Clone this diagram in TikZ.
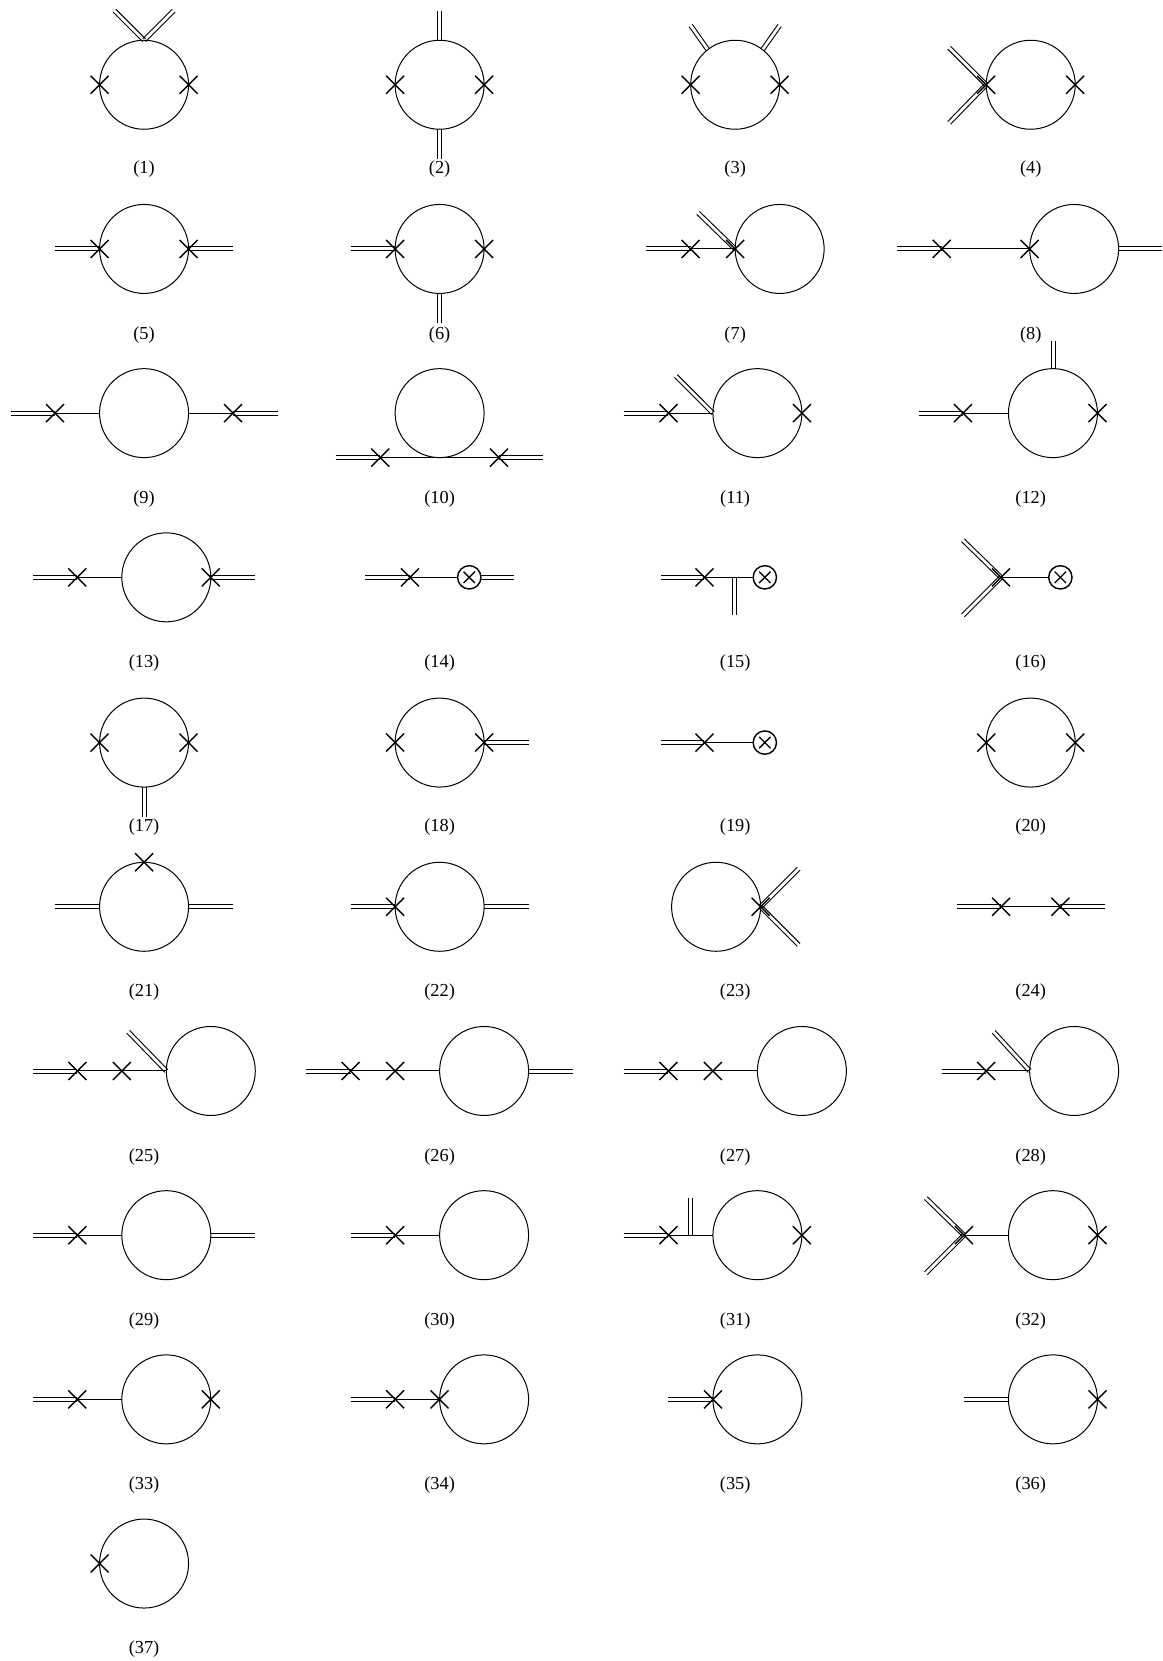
\documentclass[tikz,border=0pt]{standalone}
\usepackage{fontspec}
\setmainfont{Liberation Serif}
\usetikzlibrary{shapes.misc,calc}
\tikzset{
  loopc/.style={circle, draw=black, line width=0.6pt, minimum size=53.4pt, inner sep=0pt, outer sep=0pt},
  vertexc/.style={circle, draw=black, line width=0.85pt, minimum size=14pt, inner sep=0pt, outer sep=0pt},
  xmark/.style={cross out, draw=black, line width=0.85pt, minimum size=10.8pt, inner sep=0pt, outer sep=0pt},
  xsmall/.style={cross out, draw=black, line width=0.8pt, minimum size=6.8pt, inner sep=0pt, outer sep=0pt},
  tag/.style={font=\fontsize{11}{13}\selectfont, inner sep=0pt},
  sline/.style={line width=0.6pt},
  dline/.style={line width=0.55pt, to path={
    ($(\tikztostart)!1.2pt!90:(\tikztotarget)$) -- ($(\tikztotarget)!1.2pt!-90:(\tikztostart)$)
    ($(\tikztostart)!1.2pt!-90:(\tikztotarget)$) -- ($(\tikztotarget)!1.2pt!90:(\tikztostart)$)}}
}
\begin{document}
\begin{tikzpicture}[x=0.6356pt, y=-0.6356pt]
\useasboundingbox (0,0) rectangle (1097,1568);

\node[loopc] (loop1) at (136,80) {};
\node[xmark] (x1a) at (loop1.west) {};
\node[xmark] (x1b) at (loop1.east) {};
\coordinate (e1a) at (108,10);
\coordinate (e1b) at (164,10);
\node[tag] (t1) at (136,160) {(1)};
\node[loopc] (loop2) at (415,80) {};
\node[xmark] (x2a) at (loop2.west) {};
\node[xmark] (x2b) at (loop2.east) {};
\coordinate (e2a) at (415,10);
\coordinate (e2b) at (415,150);
\node[tag] (t2) at (415,160) {(2)};
\node[loopc] (loop3) at (694,80) {};
\node[xmark] (x3a) at (loop3.west) {};
\node[xmark] (x3b) at (loop3.east) {};
\coordinate (e3a) at (652,24);
\coordinate (e3b) at (736,24);
\node[tag] (t3) at (694,160) {(3)};
\node[loopc] (loop4) at (973,80) {};
\node[xmark] (x4a) at (loop4.west) {};
\node[xmark] (x4b) at (loop4.east) {};
\coordinate (e4a) at (896,45);
\coordinate (e4b) at (896,116);
\node[tag] (t4) at (973,160) {(4)};
\draw[dline] (loop1.north) to (e1a);
\draw[dline] (loop1.north) to (e1b);
\draw[dline] (loop2.north) to (e2a);
\draw[dline] (loop2.south) to (e2b);
\draw[dline] (loop3.128) to (e3a);
\draw[dline] (loop3.52) to (e3b);
\draw[dline] (x4a.center) to (e4a);
\draw[dline] (x4a.center) to (e4b);

\node[loopc] (loop5) at (136,235) {};
\node[xmark] (x5a) at (loop5.west) {};
\node[xmark] (x5b) at (loop5.east) {};
\coordinate (e5a) at (52,235);
\coordinate (e5b) at (220,235);
\node[tag] (t5) at (136,316) {(5)};
\node[loopc] (loop6) at (415,235) {};
\node[xmark] (x6a) at (loop6.west) {};
\node[xmark] (x6b) at (loop6.east) {};
\coordinate (e6a) at (331,235);
\coordinate (e6b) at (415,305);
\node[tag] (t6) at (415,316) {(6)};
\node[loopc] (loop7) at (736,235) {};
\node[xmark] (x7a) at (652,235) {};
\node[xmark] (x7b) at (loop7.west) {};
\coordinate (e7a) at (610,235);
\coordinate (e7b) at (659,201);
\node[tag] (t7) at (694,316) {(7)};
\node[loopc] (loop8) at (1014,235) {};
\node[xmark] (x8a) at (889,235) {};
\node[xmark] (x8b) at (loop8.west) {};
\coordinate (e8a) at (847,235);
\coordinate (e8b) at (1097,235);
\node[tag] (t8) at (973,316) {(8)};
\draw[dline] (e5a) to (x5a.center);
\draw[dline] (x5b.center) to (e5b);
\draw[dline] (e6a) to (x6a.center);
\draw[dline] (loop6.south) to (e6b);
\draw[dline] (e7a) to (x7a.center);
\draw[dline] (x7b.center) to (e7b);
\draw[sline] (x7a.center) -- (x7b.center);
\draw[dline] (e8a) to (x8a.center);
\draw[dline] (loop8.east) to (e8b);
\draw[sline] (x8a.center) -- (x8b.center);

\node[loopc] (loop9) at (136,390) {};
\node[xmark] (x9a) at (52,390) {};
\node[xmark] (x9b) at (220,390) {};
\coordinate (e9a) at (10,390);
\coordinate (e9b) at (262,390);
\node[tag] (t9) at (136,471) {(9)};
\node[loopc] (loop10) at (415,390) {};
\node[xmark] (x10a) at (359,432) {};
\node[xmark] (x10b) at (471,432) {};
\coordinate (e10a) at (317,432);
\coordinate (e10b) at (513,432);
\node[tag] (t10) at (415,471) {(10)};
\node[loopc] (loop11) at (715,390) {};
\node[xmark] (x11a) at (631,390) {};
\node[xmark] (x11b) at (loop11.east) {};
\coordinate (e11a) at (589,390);
\coordinate (e11b) at (638,355);
\node[tag] (t11) at (694,471) {(11)};
\node[loopc] (loop12) at (994,390) {};
\node[xmark] (x12a) at (909,390) {};
\node[xmark] (x12b) at (loop12.east) {};
\coordinate (e12a) at (868,390);
\coordinate (e12b) at (994,322);
\node[tag] (t12) at (973,471) {(12)};
\draw[dline] (e9a) to (x9a.center);
\draw[dline] (x9b.center) to (e9b);
\draw[sline] (x9a.center) -- (loop9.west);
\draw[sline] (loop9.east) -- (x9b.center);
\draw[dline] (e10a) to (x10a.center);
\draw[dline] (x10b.center) to (e10b);
\draw[sline] (x10a.center) -- (x10b.center);
\draw[dline] (e11a) to (x11a.center);
\draw[dline] (loop11.west) to (e11b);
\draw[sline] (x11a.center) -- (loop11.west);
\draw[dline] (e12a) to (x12a.center);
\draw[dline] (loop12.north) to (e12b);
\draw[sline] (x12a.center) -- (loop12.west);

\node[loopc] (loop13) at (157,545) {};
\node[xmark] (x13a) at (73,545) {};
\node[xmark] (x13b) at (loop13.east) {};
\coordinate (e13a) at (31,545);
\coordinate (e13b) at (241,545);
\node[tag] (t13) at (136,626) {(13)};
\node[xmark] (x14a) at (387,545) {};
\node[vertexc] (v14) at (443,545) {};
\node[xsmall] (x14b) at (v14.center) {};
\coordinate (e14a) at (345,545);
\coordinate (e14b) at (485,545);
\node[tag] (t14) at (415,626) {(14)};
\node[xmark] (x15a) at (665,545) {};
\node[vertexc] (v15) at (722,545) {};
\node[xsmall] (x15b) at (v15.center) {};
\coordinate (e15a) at (624,545);
\coordinate (j15) at (693,545);
\coordinate (e15b) at (693,581);
\node[tag] (t15) at (694,626) {(15)};
\node[xmark] (x16a) at (945,545) {};
\node[vertexc] (v16) at (1001,545) {};
\node[xsmall] (x16b) at (v16.center) {};
\coordinate (e16a) at (909,510);
\coordinate (e16b) at (909,581);
\node[tag] (t16) at (973,626) {(16)};
\draw[dline] (e13a) to (x13a.center);
\draw[dline] (x13b.center) to (e13b);
\draw[sline] (x13a.center) -- (loop13.west);
\draw[dline] (e14a) to (x14a.center);
\draw[dline] (v14.east) to (e14b);
\draw[sline] (x14a.center) -- (v14.west);
\draw[dline] (e15a) to (x15a.center);
\draw[dline] (j15) to (e15b);
\draw[sline] (x15a.center) -- (v15.west);
\draw[dline] (x16a.center) to (e16a);
\draw[dline] (x16a.center) to (e16b);
\draw[sline] (x16a.center) -- (v16.west);

\node[loopc] (loop17) at (136,701) {};
\node[xmark] (x17a) at (loop17.west) {};
\node[xmark] (x17b) at (loop17.east) {};
\coordinate (e17a) at (136,771);
\node[tag] (t17) at (136,781) {(17)};
\node[loopc] (loop18) at (415,701) {};
\node[xmark] (x18a) at (loop18.west) {};
\node[xmark] (x18b) at (loop18.east) {};
\coordinate (e18a) at (499,701);
\node[tag] (t18) at (415,781) {(18)};
\node[xmark] (x19a) at (665,701) {};
\node[vertexc] (v19) at (722,701) {};
\node[xsmall] (x19b) at (v19.center) {};
\coordinate (e19a) at (624,701);
\node[tag] (t19) at (694,781) {(19)};
\node[loopc] (loop20) at (973,701) {};
\node[xmark] (x20a) at (loop20.west) {};
\node[xmark] (x20b) at (loop20.east) {};
\node[tag] (t20) at (973,781) {(20)};
\draw[dline] (loop17.south) to (e17a);
\draw[dline] (x18b.center) to (e18a);
\draw[dline] (e19a) to (x19a.center);
\draw[sline] (x19a.center) -- (v19.west);

\node[loopc] (loop21) at (136,856) {};
\node[xmark] (x21a) at (loop21.north) {};
\coordinate (e21a) at (52,856);
\coordinate (e21b) at (220,856);
\node[tag] (t21) at (136,937) {(21)};
\node[loopc] (loop22) at (415,856) {};
\node[xmark] (x22a) at (loop22.west) {};
\coordinate (e22a) at (331,856);
\coordinate (e22b) at (499,856);
\node[tag] (t22) at (415,937) {(22)};
\node[loopc] (loop23) at (676,856) {};
\node[xmark] (x23a) at (loop23.east) {};
\coordinate (e23a) at (754,820);
\coordinate (e23b) at (754,892);
\node[tag] (t23) at (694,937) {(23)};
\node[xmark] (x24a) at (945,856) {};
\node[xmark] (x24b) at (1001,856) {};
\coordinate (e24a) at (903,856);
\coordinate (e24b) at (1043,856);
\node[tag] (t24) at (973,937) {(24)};
\draw[dline] (e21a) to (loop21.west);
\draw[dline] (loop21.east) to (e21b);
\draw[dline] (e22a) to (x22a.center);
\draw[dline] (loop22.east) to (e22b);
\draw[dline] (x23a.center) to (e23a);
\draw[dline] (x23a.center) to (e23b);
\draw[dline] (e24a) to (x24a.center);
\draw[dline] (x24b.center) to (e24b);
\draw[sline] (x24a.center) -- (x24b.center);

\node[loopc] (loop25) at (199,1011) {};
\node[xmark] (x25a) at (73,1011) {};
\node[xmark] (x25b) at (115,1011) {};
\coordinate (e25a) at (31,1011);
\coordinate (e25b) at (121,974);
\node[tag] (t25) at (136,1092) {(25)};
\node[loopc] (loop26) at (457,1011) {};
\node[xmark] (x26a) at (331,1011) {};
\node[xmark] (x26b) at (373,1011) {};
\coordinate (e26a) at (289,1011);
\coordinate (e26b) at (541,1011);
\node[tag] (t26) at (415,1092) {(26)};
\node[loopc] (loop27) at (757,1011) {};
\node[xmark] (x27a) at (631,1011) {};
\node[xmark] (x27b) at (673,1011) {};
\coordinate (e27a) at (589,1011);
\node[tag] (t27) at (694,1092) {(27)};
\node[loopc] (loop28) at (1014,1011) {};
\node[xmark] (x28a) at (931,1011) {};
\coordinate (e28a) at (889,1011);
\coordinate (e28b) at (938,974);
\node[tag] (t28) at (973,1092) {(28)};
\draw[dline] (e25a) to (x25a.center);
\draw[dline] (loop25.west) to (e25b);
\draw[sline] (x25a.center) -- (loop25.west);
\draw[dline] (e26a) to (x26a.center);
\draw[dline] (loop26.east) to (e26b);
\draw[sline] (x26a.center) -- (loop26.west);
\draw[dline] (e27a) to (x27a.center);
\draw[sline] (x27a.center) -- (loop27.west);
\draw[dline] (e28a) to (x28a.center);
\draw[dline] (loop28.west) to (e28b);
\draw[sline] (x28a.center) -- (loop28.west);

\node[loopc] (loop29) at (157,1166) {};
\node[xmark] (x29a) at (73,1166) {};
\coordinate (e29a) at (31,1166);
\coordinate (e29b) at (241,1166);
\node[tag] (t29) at (136,1247) {(29)};
\node[loopc] (loop30) at (457,1166) {};
\node[xmark] (x30a) at (373,1166) {};
\coordinate (e30a) at (331,1166);
\node[tag] (t30) at (415,1247) {(30)};
\node[loopc] (loop31) at (715,1166) {};
\node[xmark] (x31a) at (631,1166) {};
\node[xmark] (x31b) at (loop31.east) {};
\coordinate (e31a) at (589,1166);
\coordinate (j31) at (652,1166);
\coordinate (e31b) at (652,1131);
\node[tag] (t31) at (694,1247) {(31)};
\node[loopc] (loop32) at (994,1166) {};
\node[xmark] (x32a) at (910,1166) {};
\node[xmark] (x32b) at (loop32.east) {};
\coordinate (e32a) at (874,1131);
\coordinate (e32b) at (874,1202);
\node[tag] (t32) at (973,1247) {(32)};
\draw[dline] (e29a) to (x29a.center);
\draw[dline] (loop29.east) to (e29b);
\draw[sline] (x29a.center) -- (loop29.west);
\draw[dline] (e30a) to (x30a.center);
\draw[sline] (x30a.center) -- (loop30.west);
\draw[dline] (e31a) to (x31a.center);
\draw[dline] (j31) to (e31b);
\draw[sline] (x31a.center) -- (loop31.west);
\draw[dline] (x32a.center) to (e32a);
\draw[dline] (x32a.center) to (e32b);
\draw[sline] (x32a.center) -- (loop32.west);

\node[loopc] (loop33) at (157,1321) {};
\node[xmark] (x33a) at (73,1321) {};
\node[xmark] (x33b) at (loop33.east) {};
\coordinate (e33a) at (31,1321);
\node[tag] (t33) at (136,1402) {(33)};
\node[loopc] (loop34) at (457,1321) {};
\node[xmark] (x34a) at (373,1321) {};
\node[xmark] (x34b) at (loop34.west) {};
\coordinate (e34a) at (331,1321);
\node[tag] (t34) at (415,1402) {(34)};
\node[loopc] (loop35) at (715,1321) {};
\node[xmark] (x35a) at (loop35.west) {};
\coordinate (e35a) at (631,1321);
\node[tag] (t35) at (694,1402) {(35)};
\node[loopc] (loop36) at (994,1321) {};
\node[xmark] (x36a) at (loop36.east) {};
\coordinate (e36a) at (910,1321);
\node[tag] (t36) at (973,1402) {(36)};
\draw[dline] (e33a) to (x33a.center);
\draw[sline] (x33a.center) -- (loop33.west);
\draw[dline] (e34a) to (x34a.center);
\draw[sline] (x34a.center) -- (x34b.center);
\draw[dline] (e35a) to (x35a.center);
\draw[dline] (e36a) to (loop36.west);

\node[loopc] (loop37) at (136,1476) {};
\node[xmark] (x37a) at (loop37.west) {};
\node[tag] (t37) at (136,1557) {(37)};
\end{tikzpicture}
\end{document}
